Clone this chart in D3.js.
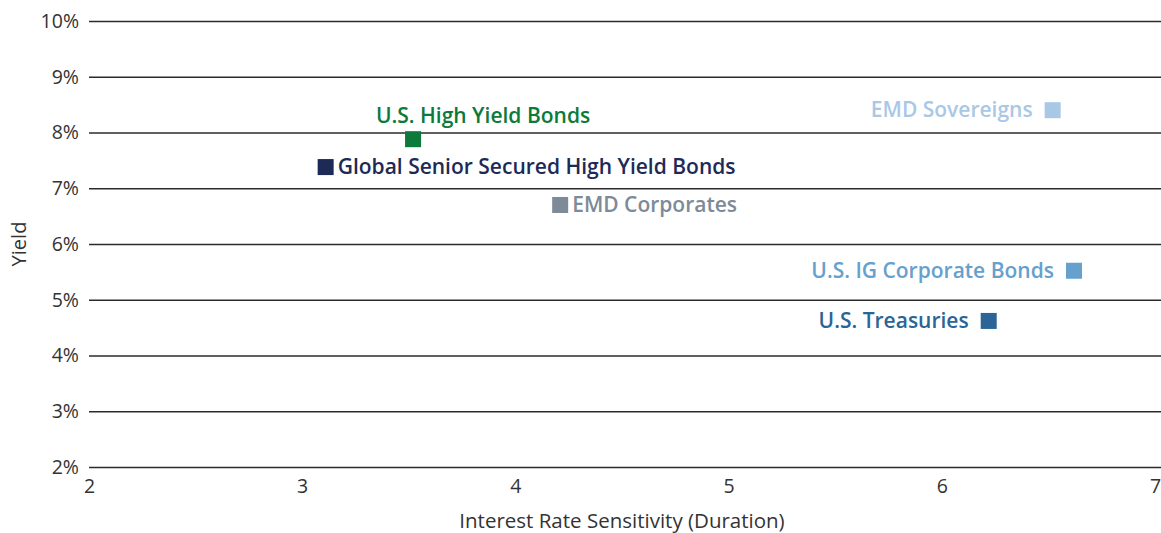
<!DOCTYPE html>
<html>
<head>
<meta charset="utf-8">
<script src="https://cdn.jsdelivr.net/npm/d3@7"></script>
<style>
  body { margin: 0; background: #fff; }
  text { font-family: "Open Sans", sans-serif; }
</style>
</head>
<body>
<div id="chart"></div>
<script>
// Data
const names = ["U.S. High Yield Bonds", "Global Senior Secured High Yield Bonds", "EMD Corporates",
               "EMD Sovereigns", "U.S. IG Corporate Bonds", "U.S. Treasuries"];
const duration = [3.52, 3.11, 4.21, 6.52, 6.62, 6.22];
const yieldPct = [7.88, 7.38, 6.70, 8.40, 5.52, 4.62];
const colors = ["#0b7a3b", "#1d2a56", "#7d8a97", "#a9c8e6", "#66a0cd", "#2a6596"];
const labelPos = ["top", "right", "right", "left", "left", "left"];
const xTicks = [2, 3, 4, 5, 6, 7];
const yTicks = [2, 3, 4, 5, 6, 7, 8, 9, 10];

const width = 1161, height = 533;
const margin = { top: 21, right: 6, bottom: 66, left: 89 };

const svg = d3.select("#chart").append("svg").attr("width", width).attr("height", height);

const x = d3.scaleLinear().domain([2, 7]).range([margin.left, width - margin.right]);
const y = d3.scaleLinear().domain([2, 10]).range([height - margin.bottom, margin.top]);

// gridlines + y labels
const yAxis = svg.append("g")
  .attr("transform", `translate(${margin.left},0)`)
  .call(d3.axisLeft(y).tickValues(yTicks).tickFormat(d => d + "%").tickSize(0).tickPadding(10));
yAxis.select(".domain").remove();
yAxis.selectAll("text").style("font-size", "19.5px").attr("fill", "#333");
yAxis.selectAll(".tick line").attr("x2", width - margin.left).attr("stroke", "#2b2b2b").attr("stroke-width", 1.3);

// x labels
const xAxis = svg.append("g")
  .attr("transform", `translate(0,${height - margin.bottom})`)
  .call(d3.axisBottom(x).tickValues(xTicks).tickFormat(d3.format("d")).tickSize(0).tickPadding(12));
xAxis.select(".domain").remove();
xAxis.selectAll("text").style("font-size", "19.5px").attr("fill", "#333");

// axis titles
svg.append("text")
  .attr("x", 622).attr("y", 528)
  .attr("text-anchor", "middle")
  .style("font-size", "20.5px").attr("fill", "#333")
  .text("Interest Rate Sensitivity (Duration)");
svg.append("text")
  .attr("transform", `translate(26,${y(6)}) rotate(-90)`)
  .attr("text-anchor", "middle")
  .style("font-size", "20px").attr("fill", "#333")
  .text("Yield");

// points
const data = names.map((n, i) => ({ name: n, x: duration[i], y: yieldPct[i], color: colors[i], pos: labelPos[i] }));
const sq = 16;

const pts = svg.append("g").selectAll("g").data(data).enter().append("g")
  .attr("transform", d => `translate(${x(d.x)},${y(d.y)})`);

pts.append("rect")
  .attr("x", -sq / 2).attr("y", -sq / 2)
  .attr("width", sq).attr("height", sq)
  .attr("fill", d => d.color);

pts.append("text")
  .attr("x", d => d.pos === "right" ? sq / 2 + 4 : d.pos === "left" ? -sq / 2 - 12 : 70)
  .attr("y", d => d.pos === "top" ? -16 : 7)
  .attr("text-anchor", d => d.pos === "right" ? "start" : d.pos === "left" ? "end" : "middle")
  .style("font-size", "21px").style("font-weight", "600")
  .attr("fill", d => d.color)
  .text(d => d.name);
</script>
</body>
</html>
